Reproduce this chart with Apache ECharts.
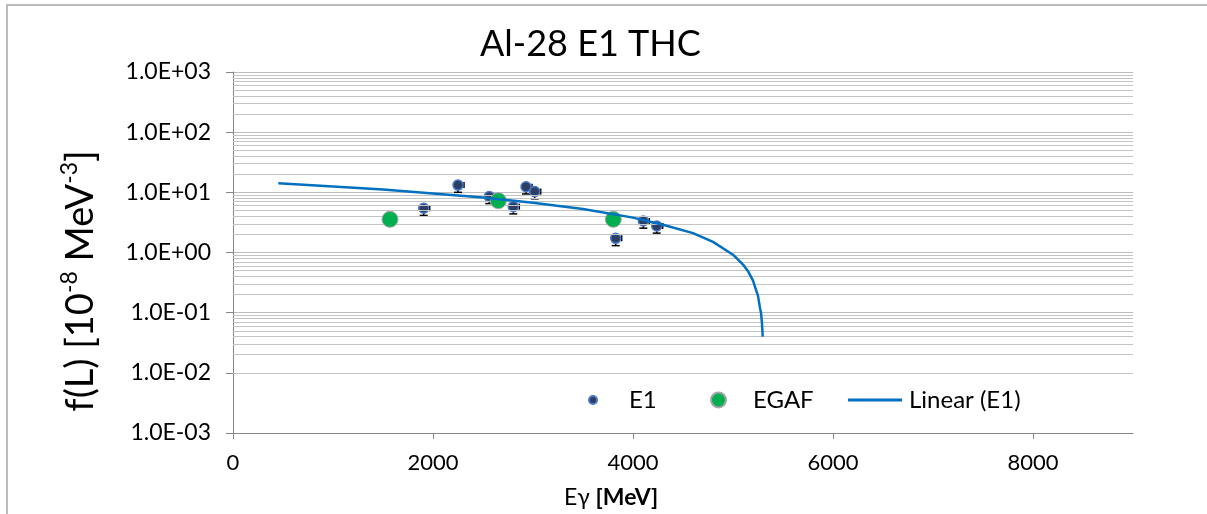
<!DOCTYPE html>
<html>
<head>
<meta charset="utf-8">
<script src="https://cdn.jsdelivr.net/npm/echarts@6/dist/echarts.min.js"></script>
<style>html,body{margin:0;padding:0;background:#fff}#c{width:1207px;height:514px}</style>
</head>
<body>
<div id="c"></div>
<script>
// ---- data ----
const e1X = [1907, 2250, 2563, 2803, 2930, 3017, 3827, 4103, 4237];
const e1Y = [5.43, 13.2, 8.5, 5.78, 12.4, 10.3, 1.72, 3.34, 2.76];
const e1XErr = [60, 60, 60, 60, 60, 60, 60, 60, 60];
const e1YErr = [1.3, 3.2, 2.0, 1.4, 3.0, 2.5, 0.42, 0.8, 0.66];
const egafX = [1570, 2653, 3803];
const egafY = [3.56, 7.26, 3.56];
const trendX = [453, 1000, 1500, 2000, 2500, 3000, 3500, 4000, 4300, 4600, 4800, 5000, 5100, 5150, 5200, 5230, 5250, 5270, 5280, 5290, 5297];
const trendY = [14.1, 12.5, 11.1, 9.6, 8.2, 6.7, 5.3, 3.8, 2.9, 2.1, 1.5, 0.92, 0.63, 0.49, 0.34, 0.24, 0.19, 0.12, 0.10, 0.066, 0.04];
const xTicks = [0, 2000, 4000, 6000, 8000];
const yDecades = [0.001, 0.01, 0.1, 1, 10, 100, 1000];
const yTickLabels = ['1.0E-03', '1.0E-02', '1.0E-01', '1.0E+00', '1.0E+01', '1.0E+02', '1.0E+03'];
const minorMultipliers = [2, 3, 4, 5, 6, 7, 8, 9];

const FONT = 'Lato, "Open Sans", sans-serif';
const minorLines = [];
yDecades.slice(0, -1).forEach(d => minorMultipliers.forEach(m => minorLines.push({ yAxis: d * m })));

const chart = echarts.init(document.getElementById('c'));
chart.setOption({
  animation: false,
  backgroundColor: '#fff',
  title: {
    text: 'Al-28 E1 THC', left: 475, top: 21,
    textStyle: { fontFamily: FONT, fontSize: 36, fontWeight: 'normal', color: '#000' }
  },
  grid: { left: 233, right: 74, top: 72, bottom: 81, containLabel: false },
  xAxis: {
    type: 'value', min: 0, max: 9000, interval: 2000,
    axisLine: { lineStyle: { color: '#868686', width: 1 } },
    axisTick: { show: true, length: 6, customValues: xTicks, lineStyle: { color: '#868686' } },
    axisLabel: { customValues: xTicks, margin: 19, fontFamily: FONT, fontSize: 22, color: '#000',
      formatter: v => String(v) },
    splitLine: { show: false }
  },
  yAxis: {
    type: 'log', logBase: 10, min: 0.001, max: 1000,
    axisLine: { show: true, lineStyle: { color: '#868686', width: 1 } },
    axisTick: { show: true, length: 7, lineStyle: { color: '#868686' } },
    axisLabel: {
      margin: 22, fontFamily: FONT, fontSize: 23, color: '#000',
      formatter: v => {
        const i = yDecades.findIndex(d => Math.abs(Math.log10(d) - Math.log10(v)) < 1e-6);
        return i >= 0 ? yTickLabels[i] : '';
      }
    },
    splitLine: { show: true, lineStyle: { color: '#bdbdbd', width: 1 } }
  },
  legend: [
    { data: ['E1'], left: 588, top: 388, padding: 0, itemWidth: 8, itemHeight: 8,
      textStyle: { fontFamily: FONT, fontSize: 24, color: '#000', padding: [0, 0, 0, 27] } },
    { data: ['EGAF'], left: 710, top: 388, padding: 0, itemWidth: 15, itemHeight: 15,
      textStyle: { fontFamily: FONT, fontSize: 24, color: '#000', padding: [0, 0, 0, 22] } },
    { data: [{ name: 'Linear (E1)', icon: 'rect' }], left: 848, top: 388, padding: 0, itemWidth: 54, itemHeight: 3,
      textStyle: { fontFamily: FONT, fontSize: 24, color: '#000', padding: [0, 0, 0, 2] } }
  ],
  graphic: [
    { type: 'polyline', silent: true, shape: { points: [[7, 514], [7, 5], [1207, 5]] },
      style: { stroke: '#a6a6a6', lineWidth: 1.5, fill: null } },
    { type: 'text', x: 81, y: 281, rotation: Math.PI / 2, silent: true,
      style: {
        text: 'f(L) [10{s|-8} MeV{s|-3}]',
        align: 'center', verticalAlign: 'middle',
        fontFamily: FONT, fontSize: 38, fill: '#000', lineHeight: 46,
        rich: { s: { fontFamily: FONT, fontSize: 23, verticalAlign: 'top', lineHeight: 46, fill: '#000' } }
      } },
    { type: 'text', x: 611, y: 498, silent: true,
      style: {
        text: 'Eγ {b|[MeV]}', align: 'center', verticalAlign: 'middle',
        fontFamily: FONT, fontSize: 23, fill: '#000',
        rich: { b: { fontFamily: FONT, fontSize: 23, fontWeight: 'bold', fill: '#000' } }
      } }
  ],
  series: [
    { name: 'minorGrid', type: 'line', data: [], z: 0, silent: true,
      markLine: { silent: true, symbol: 'none', label: { show: false }, animation: false,
        lineStyle: { color: '#c4c4c4', width: 1, type: 'solid' }, data: minorLines } },
    { name: 'E1err', type: 'custom', z: 3, silent: true,
      data: e1X.map((x, i) => [x, e1Y[i], e1XErr[i], e1YErr[i]]),
      renderItem: (params, api) => {
        const x = api.value(0), y = api.value(1), xe = api.value(2), ye = api.value(3);
        const c = api.coord([x, y]);
        const r = api.coord([x + xe, y]);
        const b = api.coord([x, y - ye]);
        const st = { stroke: '#000', lineWidth: 1.5 };
        return { type: 'group', children: [
          { type: 'line', shape: { x1: c[0], y1: c[1], x2: b[0], y2: b[1] }, style: st },
          { type: 'line', shape: { x1: b[0] - 4, y1: b[1], x2: b[0] + 4, y2: b[1] }, style: st },
          { type: 'line', shape: { x1: c[0], y1: c[1], x2: r[0], y2: r[1] }, style: st },
          { type: 'line', shape: { x1: r[0], y1: r[1] - 3, x2: r[0], y2: r[1] + 3 }, style: st }
        ] };
      } },
    { name: 'E1', type: 'scatter', z: 4, symbol: 'circle', symbolSize: 10,
      data: e1X.map((x, i) => [x, e1Y[i]]),
      itemStyle: { color: '#2c3e62', borderColor: '#4a78cc', borderWidth: 1.5, opacity: 1 } },
    { name: 'EGAF', type: 'scatter', z: 5, symbol: 'circle', symbolSize: 16,
      data: egafX.map((x, i) => [x, egafY[i]]),
      itemStyle: { color: '#00b050', borderColor: '#a5a5a5', borderWidth: 1, opacity: 1 } },
    { name: 'Linear (E1)', type: 'line', z: 6, showSymbol: false, symbol: 'none',
      data: trendX.map((x, i) => [x, trendY[i]]),
      lineStyle: { color: '#0070c0', width: 2.5 }, itemStyle: { color: '#0070c0' } }
  ]
});
</script>
</body>
</html>
